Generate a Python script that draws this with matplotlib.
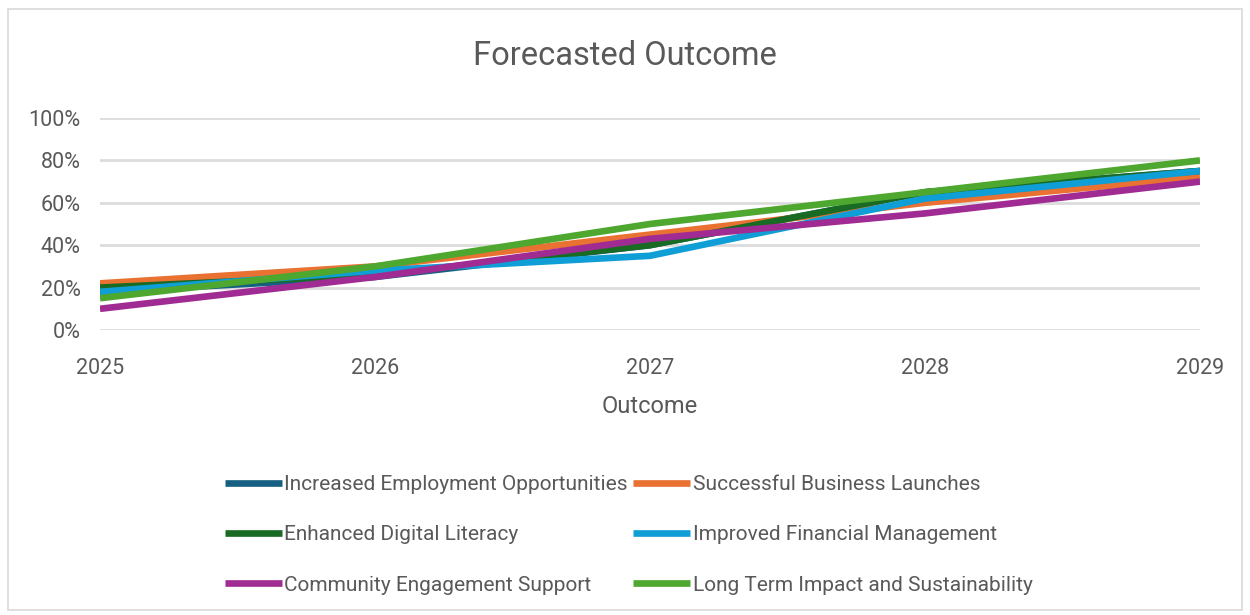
import matplotlib.pyplot as plt
from matplotlib.patches import Rectangle
from matplotlib.ticker import PercentFormatter

plt.rcParams['font.family'] = ['Roboto', 'DejaVu Sans']

years = [2025, 2026, 2027, 2028, 2029]

employment = [0.18, 0.25, 0.40, 0.65, 0.75]
launches = [0.22, 0.30, 0.45, 0.60, 0.72]
digital = [0.20, 0.26, 0.40, 0.65, 0.75]
financial = [0.18, 0.28, 0.35, 0.62, 0.75]
community = [0.10, 0.25, 0.43, 0.55, 0.70]
long_term = [0.15, 0.30, 0.50, 0.65, 0.80]

series = [
    ('Increased Employment Opportunities', employment, '#156082'),
    ('Successful Business Launches', launches, '#E97132'),
    ('Enhanced Digital Literacy', digital, '#196B24'),
    ('Improved Financial Management', financial, '#0F9ED5'),
    ('Community Engagement Support', community, '#A02B93'),
    ('Long Term Impact and Sustainability', long_term, '#4EA72E'),
]

fig = plt.figure(figsize=(12.5, 6.15), dpi=100)
ax = fig.add_axes([0.08, 1 - 330 / 615, 0.88, 212 / 615])

for name, vals, col in series:
    ax.plot(years, vals, color=col, lw=4.8, label=name, solid_capstyle='butt')

ax.set_xlim(2025, 2029)
ax.set_ylim(0, 1)
ax.set_xticks(years)
ax.set_yticks([0, 0.2, 0.4, 0.6, 0.8, 1.0])
ax.yaxis.set_major_formatter(PercentFormatter(1.0, decimals=0))
ax.grid(axis='y', color='#dcdcdc', lw=2)
ax.set_axisbelow(True)
for s in ax.spines.values():
    s.set_visible(False)
ax.tick_params(axis='both', length=0, labelsize=15.5, colors='#595959')
ax.tick_params(axis='x', pad=20)
ax.tick_params(axis='y', pad=14)
ax.set_xlabel('Outcome', fontsize=17, color='#595959', labelpad=12)

fig.suptitle('Forecasted Outcome', fontsize=23.5, color='#595959', y=1 - 56 / 615, va='center')

# legend is filled row by row in the original
h, l = ax.get_legend_handles_labels()
order = [0, 2, 4, 1, 3, 5]
fig.legend([h[i] for i in order], [l[i] for i in order], ncol=2, loc='center',
           bbox_to_anchor=(0.503, 1 - 535 / 615), frameon=False, fontsize=15,
           labelcolor='#595959', handlelength=2.75, handletextpad=0.1,
           columnspacing=0.25, labelspacing=1.5)

fig.patches.append(Rectangle((8 / 1250, 5 / 615), 1 - 16 / 1250, 1 - 14 / 615,
                             transform=fig.transFigure, fill=False,
                             edgecolor='#d9d9d9', lw=1.2))

fig.savefig('out.png', dpi=100)
